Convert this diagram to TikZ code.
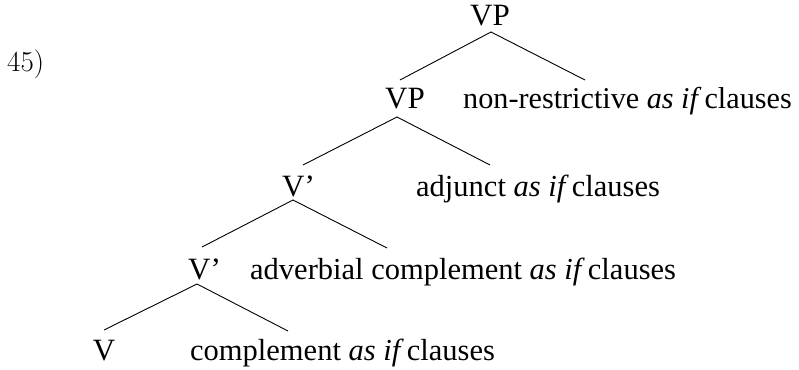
\documentclass[tikz,border=0pt]{standalone}
\usepackage{fontspec}
\setmainfont{Liberation Serif}
\newfontfamily\lmfont{Latin Modern Roman}
\newcommand{\asif}{\textit{as if}\hspace{0.1em}}
\begin{document}
\begin{tikzpicture}[x=1pt,y=-1pt,
  lab/.style={anchor=base,inner sep=0pt,font=\fontsize{31}{36}\selectfont},
  txt/.style={anchor=base west,inner sep=0pt,font=\fontsize{30.5}{36}\selectfont},
  branch/.style={draw,line width=0.9pt}]
\useasboundingbox (0,0) rectangle (799,369);
\node[anchor=base west,inner sep=0pt,font=\lmfont\fontsize{29}{34}\selectfont] (ex) at (7,71) {45)};
% labels
\node[lab] (vp1) at (490,26) {VP};
\node[lab] (vp2) at (405,108) {VP};
\node[txt,font=\fontsize{30.2}{36}\selectfont] (nr) at (463,108) {non-restrictive \asif clauses};
\node[lab,anchor=base west] (v3) at (282,196) {V’};
\node[txt] (adj) at (416,196) {adjunct \asif clauses};
\node[lab,anchor=base west] (v4) at (188,279) {V’};
\node[txt] (adv) at (250,279) {adverbial complement \asif clauses};
\node[lab] (v5) at (104,360) {V};
\node[txt] (comp) at (190,360) {complement \asif clauses};
% branch points
\coordinate (a1) at (491,32);
\coordinate (a1l) at (400,80);
\coordinate (a1r) at (585,80);
\coordinate (a2) at (397,117);
\coordinate (a2l) at (303,165);
\coordinate (a2r) at (490,165);
\coordinate (a3) at (293,200);
\coordinate (a3l) at (202,247);
\coordinate (a3r) at (387,248);
\coordinate (a4) at (197,284);
\coordinate (a4l) at (104,330);
\coordinate (a4r) at (288,331);
\draw[branch] (a1l) -- (a1) -- (a1r);
\draw[branch] (a2l) -- (a2) -- (a2r);
\draw[branch] (a3l) -- (a3) -- (a3r);
\draw[branch] (a4l) -- (a4) -- (a4r);
\end{tikzpicture}
\end{document}
